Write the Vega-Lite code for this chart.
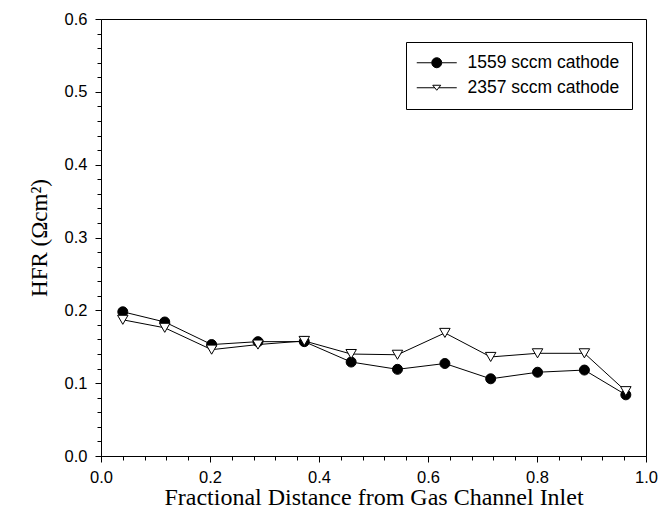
{
  "$schema": "https://vega.github.io/schema/vega-lite/v6.json",
  "description": "HFR along the gas channel for two cathode flow rates.",
  "width": 545,
  "height": 437,
  "autosize": "none",
  "padding": {"left": 101, "top": 19, "right": 16, "bottom": 55},
  "background": "white",
  "config": {
    "view": {"stroke": "black", "strokeWidth": 1},
    "axis": {
      "grid": false,
      "labelFlush": false,
      "labelOverlap": false,
      "labelBound": false,
      "tickCount": 100,
      "domainColor": "black",
      "tickColor": "black",
      "labelColor": "black",
      "titleColor": "black",
      "labelFont": "Liberation Sans",
      "labelFontSize": 16.5,
      "titleFont": "Liberation Serif",
      "titleFontSize": 23,
      "titleFontWeight": "normal",
      "domainWidth": 1,
      "tickWidth": 1
    }
  },
  "data": {
    "values": [
      {"x": 0.040, "hfr": 0.198, "series": "1559 sccm cathode"},
      {"x": 0.117, "hfr": 0.184, "series": "1559 sccm cathode"},
      {"x": 0.203, "hfr": 0.153, "series": "1559 sccm cathode"},
      {"x": 0.288, "hfr": 0.157, "series": "1559 sccm cathode"},
      {"x": 0.373, "hfr": 0.157, "series": "1559 sccm cathode"},
      {"x": 0.459, "hfr": 0.129, "series": "1559 sccm cathode"},
      {"x": 0.544, "hfr": 0.119, "series": "1559 sccm cathode"},
      {"x": 0.631, "hfr": 0.127, "series": "1559 sccm cathode"},
      {"x": 0.715, "hfr": 0.106, "series": "1559 sccm cathode"},
      {"x": 0.801, "hfr": 0.115, "series": "1559 sccm cathode"},
      {"x": 0.887, "hfr": 0.118, "series": "1559 sccm cathode"},
      {"x": 0.963, "hfr": 0.084, "series": "1559 sccm cathode"},
      {"x": 0.040, "hfr": 0.187, "series": "2357 sccm cathode"},
      {"x": 0.117, "hfr": 0.176, "series": "2357 sccm cathode"},
      {"x": 0.203, "hfr": 0.146, "series": "2357 sccm cathode"},
      {"x": 0.288, "hfr": 0.153, "series": "2357 sccm cathode"},
      {"x": 0.373, "hfr": 0.158, "series": "2357 sccm cathode"},
      {"x": 0.459, "hfr": 0.140, "series": "2357 sccm cathode"},
      {"x": 0.544, "hfr": 0.139, "series": "2357 sccm cathode"},
      {"x": 0.631, "hfr": 0.169, "series": "2357 sccm cathode"},
      {"x": 0.715, "hfr": 0.136, "series": "2357 sccm cathode"},
      {"x": 0.801, "hfr": 0.141, "series": "2357 sccm cathode"},
      {"x": 0.887, "hfr": 0.141, "series": "2357 sccm cathode"},
      {"x": 0.963, "hfr": 0.089, "series": "2357 sccm cathode"}
    ]
  },
  "layer": [
    {
      "mark": {"type": "line", "color": "black", "strokeWidth": 1},
      "encoding": {
        "x": {
          "field": "x",
          "type": "quantitative",
          "scale": {"domain": [0, 1], "nice": false, "zero": false},
          "axis": {
            "orient": "bottom",
            "tickCount": 100,
            "values": [0, 0.04, 0.08, 0.12, 0.16, 0.2, 0.24, 0.28, 0.32, 0.36, 0.4, 0.44, 0.48, 0.52, 0.56, 0.6, 0.64, 0.68, 0.72, 0.76, 0.8, 0.84, 0.88, 0.92, 0.96, 1.0],
            "labelExpr": "abs(datum.value * 5 - round(datum.value * 5)) < 0.001 ? format(datum.value, '.1f') : ''",
            "tickSize": {"condition": {"test": "abs(datum.value * 5 - round(datum.value * 5)) < 0.001", "value": 6}, "value": 4},
            "labelPadding": 7,
            "titlePadding": 0,
            "titleFontSize": 24,
            "title": "Fractional Distance from Gas Channel Inlet"
          }
        },
        "y": {
          "field": "hfr",
          "type": "quantitative",
          "scale": {"domain": [0, 0.6], "nice": false},
          "axis": {
            "orient": "left",
            "tickCount": 100,
            "values": [0, 0.02, 0.04, 0.06, 0.08, 0.1, 0.12, 0.14, 0.16, 0.18, 0.2, 0.22, 0.24, 0.26, 0.28, 0.3, 0.32, 0.34, 0.36, 0.38, 0.4, 0.42, 0.44, 0.46, 0.48, 0.5, 0.52, 0.54, 0.56, 0.58, 0.6],
            "labelExpr": "abs(datum.value * 10 - round(datum.value * 10)) < 0.001 ? format(datum.value, '.1f') : ''",
            "tickSize": {"condition": {"test": "abs(datum.value * 10 - round(datum.value * 10)) < 0.001", "value": 6}, "value": 4},
            "labelPadding": 8,
            "titlePadding": 13,
            "title": "HFR (Ωcm²)"
          }
        },
        "detail": {"field": "series"}
      }
    },
    {
      "transform": [{"filter": "datum.series == '1559 sccm cathode'"}],
      "mark": {"type": "point", "shape": "circle", "filled": true, "fill": "black", "stroke": "black", "strokeWidth": 1, "size": 100, "opacity": 1},
      "encoding": {
        "x": {"field": "x", "type": "quantitative"},
        "y": {"field": "hfr", "type": "quantitative"}
      }
    },
    {
      "transform": [{"filter": "datum.series == '2357 sccm cathode'"}],
      "mark": {"type": "point", "shape": "triangle-down", "filled": true, "fill": "white", "stroke": "black", "strokeWidth": 1, "size": 110, "opacity": 1},
      "encoding": {
        "x": {"field": "x", "type": "quantitative"},
        "y": {"field": "hfr", "type": "quantitative"}
      }
    },
    {
      "transform": [{"filter": "false"}],
      "mark": {"type": "point", "filled": true, "strokeWidth": 1, "size": 100, "opacity": 1},
      "encoding": {
        "x": {"field": "x", "type": "quantitative"},
        "y": {"field": "hfr", "type": "quantitative"},
        "shape": {
          "field": "series",
          "type": "nominal",
          "scale": {
            "domain": ["1559 sccm cathode", "2357 sccm cathode"],
            "range": [
              "M-4,0L-1,0M-1,0A1,1,0,1,1,1,0A1,1,0,1,1,-1,0ZM1,0L4,0",
              "M-4,0L-0.4,0M0.4,0L4,0M-0.8,-0.5L0.8,-0.5L0,0.5Z"
            ]
          },
          "legend": {
            "title": null,
            "orient": "none",
            "legendX": 305,
            "legendY": 23,
            "strokeColor": "black",
            "fillColor": "white",
            "padding": 12,
            "rowPadding": 6,
            "symbolOffset": 10,
            "labelOffset": 22,
            "labelFont": "Liberation Sans",
            "labelFontSize": 17.5,
            "labelColor": "black",
            "symbolStrokeWidth": 1
          }
        },
        "fill": {
          "field": "series",
          "type": "nominal",
          "scale": {
            "domain": ["1559 sccm cathode", "2357 sccm cathode"],
            "range": ["black", "white"]
          },
          "legend": {
            "title": null,
            "orient": "none",
            "legendX": 305,
            "legendY": 23,
            "strokeColor": "black",
            "fillColor": "white",
            "padding": 12,
            "rowPadding": 6,
            "symbolOffset": 10,
            "labelOffset": 22,
            "labelFont": "Liberation Sans",
            "labelFontSize": 17.5,
            "labelColor": "black",
            "symbolStrokeWidth": 1
          }
        },
        "stroke": {
          "field": "series",
          "type": "nominal",
          "scale": {
            "domain": ["1559 sccm cathode", "2357 sccm cathode"],
            "range": ["black", "black"]
          },
          "legend": {
            "title": null,
            "orient": "none",
            "legendX": 305,
            "legendY": 23,
            "strokeColor": "black",
            "fillColor": "white",
            "padding": 12,
            "rowPadding": 6,
            "symbolOffset": 10,
            "labelOffset": 22,
            "labelFont": "Liberation Sans",
            "labelFontSize": 17.5,
            "labelColor": "black",
            "symbolStrokeWidth": 1
          }
        }
      }
    }
  ]
}
